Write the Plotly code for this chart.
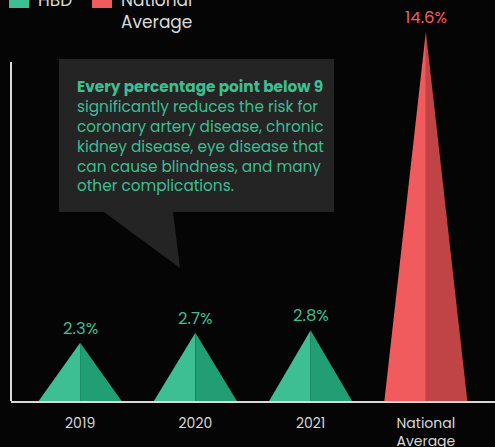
import plotly.graph_objects as go

# ---- data ----
categories = ["2019", "2020", "2021", "National<br>Average"]
values = [2.3, 2.7, 2.8, 14.6]
value_labels = ["2.3%", "2.7%", "2.8%", "14.6%"]
series = ["HBD", "HBD", "HBD", "National Average"]
legend_names = ["HBD", "National<br>Average"]
callout_text = ("<b>Every percentage point below 9</b><br>significantly reduces the risk for<br>"
                "coronary artery disease, chronic<br>kidney disease, eye disease that<br>"
                "can cause blindness, and many<br>other complications.")

# ---- style ----
W, H = 495, 447
ML, MR, MT, MB = 11, 0, 0, 46
PW, PH = W - ML - MR, H - MT - MB
BG = "#050505"
FONT = "Poppins, Open Sans, sans-serif"
light = {"HBD": "#3dbe93", "National Average": "#f25b5d"}
dark = {"HBD": "#229e75", "National Average": "#c04445"}
label_col = {"HBD": "#3dbe93", "National Average": "#f25b5d"}
AXIS = "#d9d9d9"
HALF = 0.36


def px(x):
    return (x - ML) / PW


def py(y):
    return (MT + PH - y) / PH


fig = go.Figure()
for i, (cat, v, s) in enumerate(zip(categories, values, series)):
    fig.add_trace(go.Scatter(x=[i - HALF, i, i, i - HALF], y=[0, v, 0, 0], fill="toself",
                             fillcolor=light[s], line=dict(width=0), mode="lines",
                             showlegend=False, hoverinfo="skip"))
    fig.add_trace(go.Scatter(x=[i, i, i + HALF, i], y=[0, v, 0, 0], fill="toself",
                             fillcolor=dark[s], line=dict(width=0), mode="lines",
                             showlegend=False, hoverinfo="skip"))
    fig.add_annotation(x=i, y=v, text=value_labels[i], showarrow=False, yanchor="bottom",
                       yshift=1, font=dict(family=FONT, size=16.5, color=label_col[s]))

# callout box with pointer
path = (f"M {px(59)} {py(59)} L {px(334)} {py(59)} L {px(334)} {py(212)} "
        f"L {px(173)} {py(212)} L {px(180)} {py(268)} L {px(104)} {py(212)} "
        f"L {px(59)} {py(212)} Z")
fig.add_shape(type="path", path=path, xref="paper", yref="paper",
              fillcolor="#242424", line=dict(width=0), layer="below")
fig.add_annotation(x=px(75), y=py(74), xref="paper", yref="paper", text=callout_text,
                   showarrow=False, xanchor="left", yanchor="top", align="left",
                   font=dict(family=FONT, size=15.3, color="#3dbe93"))

# y axis line
fig.add_shape(type="line", xref="paper", yref="paper", x0=0, x1=0, y0=0, y1=py(62),
              line=dict(color=AXIS, width=2))

# manual legend (cropped at top, as in the reference)
leg = [(9, legend_names[0], "HBD", 36), (92, legend_names[1], "National Average", 119)]
for sx, name, s, tx in leg:
    fig.add_shape(type="rect", xref="paper", yref="paper", x0=px(sx), x1=px(sx + 20),
                  y0=py(8), y1=py(-12), fillcolor=light[s], line=dict(width=0))
    fig.add_annotation(x=px(tx), y=py(-14), xref="paper", yref="paper", text=name,
                       showarrow=False, xanchor="left", yanchor="top", align="left",
                       font=dict(family=FONT, size=17, color="#d9d9d9"))

fig.update_layout(
    width=W, height=H, margin=dict(l=ML, r=MR, t=MT, b=MB),
    paper_bgcolor=BG, plot_bgcolor=BG, showlegend=False,
    xaxis=dict(range=[-0.6, 3.6], tickvals=list(range(len(categories))), ticktext=categories,
               showgrid=False, zeroline=False, showline=True, linecolor=AXIS, linewidth=2,
               ticks="outside", ticklen=8, tickcolor="rgba(0,0,0,0)", automargin=False,
               tickfont=dict(family=FONT, size=14, color="#d9d9d9"), fixedrange=True),
    yaxis=dict(range=[0, PH / 25.3], visible=False, fixedrange=True, automargin=False),
)
fig.write_html("out.html")
